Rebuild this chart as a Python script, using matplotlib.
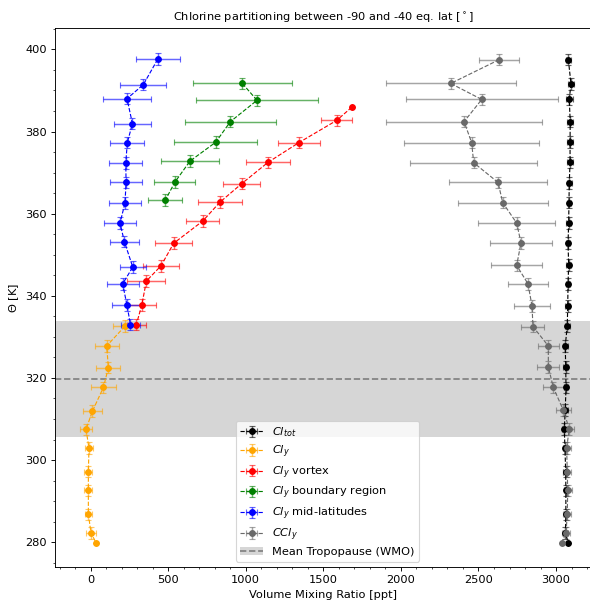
import matplotlib
matplotlib.use('Agg')
import matplotlib.pyplot as plt
from matplotlib.lines import Line2D
from matplotlib.patches import Patch

# ---------------- data ----------------
# Cl_tot
tot_theta = [397.5, 391.6, 387.8, 382.4, 377.4, 372.5, 367.5, 362.7, 357.7, 352.8, 347.5, 342.9,
             337.5, 332.6, 327.8, 322.7, 317.7, 312.2, 307.6, 302.9, 297.2, 292.6, 286.8, 282.3, 279.9]
tot_vmr = [3079, 3096, 3085, 3091, 3090, 3090, 3085, 3083, 3081, 3077, 3081, 3077,
           3075, 3072, 3059, 3062, 3064, 3059, 3053, 3057, 3062, 3063, 3063, 3060, 3078]
tot_xerr = [15, 22, 22, 18, 18, 18, 15, 15, 15, 15, 15, 15,
            15, 15, 15, 15, 15, 15, 15, 15, 15, 15, 15, 15, 0]
tot_yerr = [1.4] * 24 + [0]

# Cl_y
cly_theta = [332.6, 327.8, 322.5, 317.7, 311.9, 307.5, 302.9, 297.2, 292.6, 286.8, 282.3, 279.9]
cly_vmr = [222, 104, 115, 83, 12, -29, -10, -14, -14, -14, 3, 35]
cly_xerr = [77, 78, 77, 80, 59, 40, 26, 25, 25, 22, 30, 0]
cly_yerr = [1.4] * 11 + [0]

# Cl_y vortex
vor_theta = [385.9, 382.7, 377.3, 372.5, 367.3, 362.8, 358.2, 352.8, 347.3, 343.6, 337.7, 333.0]
vor_vmr = [1683, 1586, 1343, 1144, 974, 834, 723, 536, 454, 360, 330, 295]
vor_xerr = [0, 99, 133, 143, 119, 143, 108, 119, 114, 122, 93, 60]
vor_yerr = [0] + [1.4] * 11

# Cl_y boundary region
bnd_theta = [391.7, 387.6, 382.4, 377.4, 372.8, 367.7, 363.3]
bnd_vmr = [978, 1073, 901, 807, 641, 544, 482]
bnd_xerr = [320, 391, 293, 268, 190, 132, 110]
bnd_yerr = [1.4] * 7

# Cl_y mid-latitudes
mid_theta = [397.6, 391.4, 388.0, 381.9, 377.3, 372.3, 367.6, 362.6, 357.7, 353.2, 347.0, 342.9, 337.7, 333.0]
mid_vmr = [433, 340, 235, 270, 237, 227, 229, 222, 190, 218, 272, 207, 235, 257]
mid_xerr = [143, 147, 157, 117, 110, 107, 105, 100, 102, 92, 84, 104, 98, 61]
mid_yerr = [1.4] * 14

# CCl_y
ccl_theta = [397.5, 391.7, 387.8, 382.4, 377.3, 372.4, 367.6, 362.7, 357.7, 352.9, 347.4, 342.9,
             337.5, 332.5, 327.8, 322.7, 317.7, 312.2, 307.6, 302.9, 297.2, 292.6, 286.8, 282.3, 279.9]
ccl_vmr = [2634, 2321, 2521, 2407, 2456, 2469, 2626, 2656, 2746, 2774, 2746, 2819,
           2845, 2851, 2950, 2950, 2982, 3046, 3085, 3068, 3072, 3075, 3072, 3064, 3036]
ccl_xerr = [130, 420, 489, 503, 436, 408, 317, 289, 248, 200, 163, 132,
            113, 74, 69, 71, 69, 48, 30, 25, 25, 25, 25, 25, 0]
ccl_yerr = [1.4] * 24 + [0]

# Tropopause
trop_mean = 319.8
trop_low, trop_high = 305.7, 333.9

labels = [r'$Cl_{tot}$', r'$Cl_y$', r'$Cl_y$ vortex', r'$Cl_y$ boundary region',
          r'$Cl_y$ mid-latitudes', r'$CCl_y$']
colors = ['black', 'orange', 'red', 'green', 'blue', 'dimgray']

# ---------------- plot ----------------
DPI = 82
fig = plt.figure(figsize=(590 / DPI, 601 / DPI), dpi=DPI)
ax = fig.add_axes([55 / 590, 1 - 567.3 / 601, (591 - 55) / 590, (567.3 - 28) / 601])

ax.axhspan(trop_low, trop_high, color='#d6d6d6', zorder=0, lw=0)
ax.axhline(trop_mean, color='gray', ls='--', lw=1.5, zorder=0.5)

series = [
    (tot_vmr, tot_theta, tot_xerr, tot_yerr),
    (cly_vmr, cly_theta, cly_xerr, cly_yerr),
    (vor_vmr, vor_theta, vor_xerr, vor_yerr),
    (bnd_vmr, bnd_theta, bnd_xerr, bnd_yerr),
    (mid_vmr, mid_theta, mid_xerr, mid_yerr),
    (ccl_vmr, ccl_theta, ccl_xerr, ccl_yerr),
]
handles = []
for (x, th, xe, te), c, lab in zip(series, colors, labels):
    eb = ax.errorbar(x, th, xerr=xe, yerr=te, fmt='o--', color=c, ms=5, lw=1,
                     elinewidth=1.3, capsize=2.5, label=lab)
    for art in eb[1]:
        art.set_alpha(0.6)
    for art in eb[2]:
        art.set_alpha(0.6)
    handles.append(eb)

trop_handle = (Patch(facecolor='#d6d6d6', edgecolor='none'),
               Line2D([], [], color='gray', ls='--', lw=1.5))
handles.append(trop_handle)
labels_all = labels + ['Mean Tropopause (WMO)']

ax.set_xlim(-229, 3225)
ax.set_ylim(273.9, 405.2)
ax.minorticks_on()
ax.set_xlabel('Volume Mixing Ratio [ppt]')
ax.set_ylabel(r'$\Theta$ [K]')
ax.set_title(r'Chlorine partitioning between -90 and -40 eq. lat [$^\circ$]', fontsize=10)

ax.legend(handles, labels_all, loc='lower center', bbox_to_anchor=(0.508, 0.0), fontsize=10,
          labelspacing=0.38)

fig.savefig('out.png', dpi=DPI)
